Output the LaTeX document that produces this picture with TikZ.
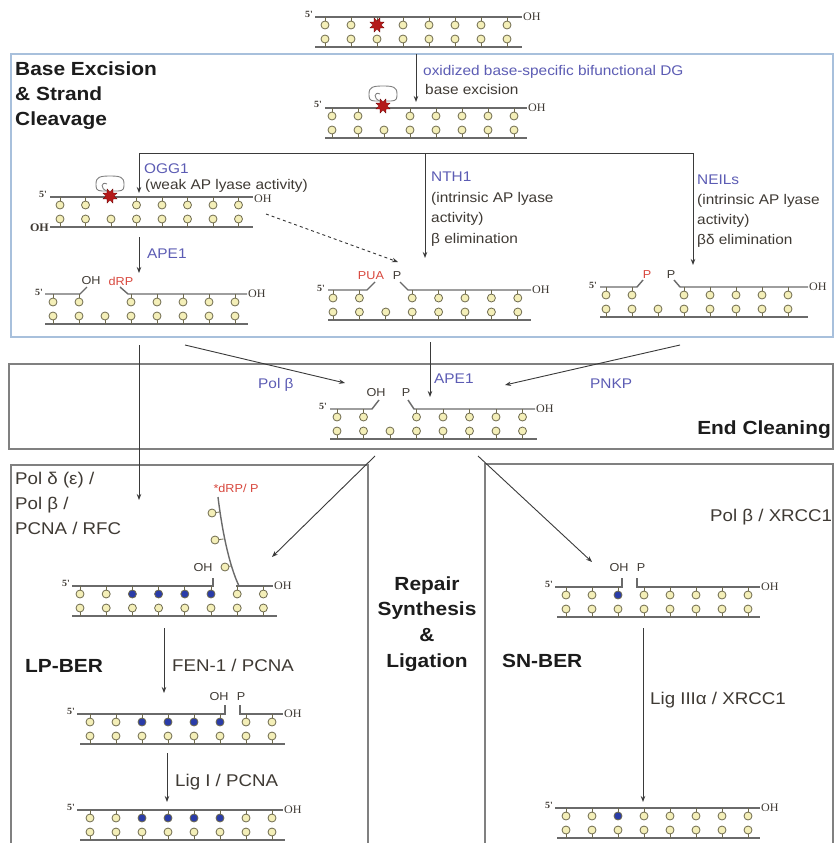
\documentclass[tikz,border=0pt]{standalone}
\usepackage{fontspec}
\setmainfont[FakeStretch=1.1]{Liberation Sans}
\newfontfamily\timesfont[FakeStretch=1.05]{Liberation Serif}
\usetikzlibrary{arrows.meta,shapes.geometric}

\definecolor{enzblue}{HTML}{5C5CB4}
\definecolor{txtdark}{HTML}{3F3A34}
\definecolor{redtxt}{HTML}{D8473D}
\definecolor{boxblue}{HTML}{A8C0DC}
\definecolor{boxgray}{HTML}{808080}
\definecolor{strandgray}{HTML}{6A6A6A}
\definecolor{basefill}{HTML}{F4EFB8}
\definecolor{baseedge}{HTML}{6E6A4E}
\definecolor{baseblue}{HTML}{2A3CA8}
\definecolor{arrowgray}{HTML}{3A3A3A}
\definecolor{lesionred}{HTML}{B41A1A}
\definecolor{headblack}{HTML}{1C1C1C}

% top-row bases hanging from a strand at height #3; #4 = list index/fill
\newcommand\toprow[4]{%
  \foreach \bk/\bc in {#4}{%
    \draw[stemline] ({#1+\bk*#2},#3) -- ({#1+\bk*#2},{#3+4.5});
    \draw[basecirc,fill=\bc] ({#1+\bk*#2},{#3+8}) circle[radius=4pt];}}
% bottom-row bases standing on the lower strand (#3+30)
\newcommand\botrow[3]{%
  \foreach \bk in {0,...,7}{%
    \draw[stemline] ({#1+\bk*#2},{#3+30}) -- ({#1+\bk*#2},{#3+25.5});
    \draw[basecirc,fill=basefill] ({#1+\bk*#2},{#3+22}) circle[radius=4pt];}}
% glycosylase outline sitting on a lesion at (#1,#2)
\newcommand\glyco[2]{%
  \draw[enzline] ({#1-2},{#2-5}) -- ({#1-8},{#2-5}) .. controls ({#1-14},{#2-5}) and ({#1-14},{#2-8}) .. ({#1-14},{#2-12})
     .. controls ({#1-14},{#2-19}) and ({#1-10},{#2-20}) .. ({#1},{#2-20})
     .. controls ({#1+10},{#2-20}) and ({#1+14},{#2-19}) .. ({#1+14},{#2-12})
     .. controls ({#1+14},{#2-8}) and ({#1+14},{#2-5}) .. ({#1+8},{#2-5}) -- ({#1+2},{#2-5});
  \draw[enzline] ({#1-3},{#2-5}) .. controls ({#1-10},{#2-7}) and ({#1-9},{#2-15}) .. ({#1-3},{#2-12});}

\begin{document}
\begin{tikzpicture}[x=1pt,y=-1pt,
  strand/.style={draw=strandgray,line width=1.4pt},
  stemline/.style={draw=baseedge,line width=0.8pt},
  basecirc/.style={draw=baseedge,line width=0.8pt},
  enzline/.style={draw=gray,line width=0.9pt,fill=white},
  lesion/.style={star,star points=8,star point ratio=0.55,fill=lesionred,draw=black!60!red,line width=0.3pt,minimum size=8.5pt,inner sep=0pt},
  arr/.style={draw=arrowgray,line width=0.9pt,-{Stealth[length=6pt,width=4.5pt]}},
  link/.style={draw=arrowgray,line width=0.9pt},
  enz/.style={text=enzblue,font=\fontsize{14}{16}\selectfont,inner sep=0pt},
  desc/.style={text=txtdark,font=\fontsize{14}{16}\selectfont,inner sep=0pt},
  bigdesc/.style={text=txtdark,font=\fontsize{17}{19}\selectfont,inner sep=0pt},
  redlab/.style={text=redtxt,font=\fontsize{11.5}{13}\selectfont,inner sep=0pt},
  darklab/.style={text=txtdark,font=\fontsize{11.5}{13}\selectfont,inner sep=0pt},
  fivep/.style={text=txtdark,font=\timesfont\bfseries\fontsize{9.5}{10}\selectfont,inner sep=0pt},
  ohend/.style={text=txtdark,font=\timesfont\fontsize{11.5}{12}\selectfont,inner sep=0pt},
  heading/.style={text=headblack,font=\bfseries\fontsize{19}{22}\selectfont,inner sep=0pt},
  panelblue/.style={draw=boxblue,line width=1.6pt},
  panelgray/.style={draw=boxgray,line width=1.3pt}]

\useasboundingbox (0,0) rectangle (835,843);
\fill[white] (0,0) rectangle (835,843);

% ---------- panels ----------
\draw[panelblue] (11,54) rectangle (833,337);
\draw[panelgray] (9,364) rectangle (833,449);
\draw[panelgray] (11,850) -- (11,465) -- (368,465) -- (368,850);
\draw[panelgray] (485,850) -- (485,464) -- (833,464) -- (833,850);

% ---------- panel headings ----------
\node[heading,anchor=base west] (hbe1) at (15,75) {Base Excision};
\node[heading,anchor=base west] (hbe2) at (15,100) {\& Strand};
\node[heading,anchor=base west] (hbe3) at (15,125) {Cleavage};
\node[heading,anchor=base east] (hec) at (831,434) {End Cleaning};
\node[heading,anchor=base] (hrs1) at (427,590) {Repair};
\node[heading,anchor=base] (hrs2) at (427,615) {Synthesis};
\node[heading,anchor=base] (hrs3) at (427,641) {\&};
\node[heading,anchor=base] (hrs4) at (427,667) {Ligation};
\node[heading,anchor=base west] (hlp) at (25,672) {LP-BER};
\node[heading,anchor=base west] (hsn) at (502,667) {SN-BER};

% ---------- damaged duplex ----------
\draw[strand] (315,17) -- (522,17);
\draw[strand] (315,47) -- (522,47);
\toprow{325}{26}{17}{0/basefill,1/basefill,3/basefill,4/basefill,5/basefill,6/basefill,7/basefill}
\draw[stemline] (377,17) -- (377,21.5);
\node[lesion] (les0) at (377,25) {};
\botrow{325}{26}{17}
\node[fivep,anchor=east] (d0five) at (313,14) {5'};
\node[ohend,anchor=west] (d0oh) at (523,17) {OH};

% ---------- base excised, enzyme bound ----------
\draw[strand] (325,108) -- (527,108);
\draw[strand] (325,138) -- (527,138);
\toprow{332}{26}{108}{0/basefill,1/basefill,3/basefill,4/basefill,5/basefill,6/basefill,7/basefill}
\botrow{332}{26}{108}
\glyco{383}{106}
\node[lesion] (les1) at (383,106) {};
\node[fivep,anchor=east] (d1five) at (322,104) {5'};
\node[ohend,anchor=west] (d1oh) at (528,108) {OH};

\coordinate (topOut) at (416,54);
\coordinate (exIn) at (416,102);
\draw[arr] (topOut) -- (exIn);
\node[enz,anchor=base west] (dglab) at (423,76) {oxidized base-specific bifunctional DG};
\node[desc,anchor=base west] (exlab) at (425,94) {base excision};

% ---------- three glycosylase branches ----------
\coordinate (brL) at (139,153);
\coordinate (brM) at (425,153);
\coordinate (brR) at (693,153);
\coordinate (oggIn) at (139,193);
\coordinate (nthIn) at (425,258);
\coordinate (neilIn) at (693,265);
\draw[link] (brL) -- (brR);
\draw[arr] (brL) -- (oggIn);
\draw[arr] (brM) -- (nthIn);
\draw[arr] (brR) -- (neilIn);

\node[enz,anchor=base west] (ogglab) at (144,173) {OGG1};
\node[desc,anchor=base west] (ogglab2) at (145,189) {(weak AP lyase activity)};
\node[enz,anchor=base west] (nthlab) at (431,181) {NTH1};
\node[desc,anchor=base west] (nthlab2) at (431,202) {(intrinsic AP lyase};
\node[desc,anchor=base west] (nthlab3) at (431,222) {activity)};
\node[desc,anchor=base west] (nthlab4) at (431,243) {β elimination};
\node[enz,anchor=base west] (neillab) at (697,184) {NEILs};
\node[desc,anchor=base west] (neillab2) at (697,204) {(intrinsic AP lyase};
\node[desc,anchor=base west] (neillab3) at (697,224) {activity)};
\node[desc,anchor=base west] (neillab4) at (697,244) {βδ elimination};

% OGG1 substrate
\draw[strand] (50,197) -- (253,197);
\draw[strand] (50,227) -- (253,227);
\toprow{60}{25.5}{197}{0/basefill,1/basefill,3/basefill,4/basefill,5/basefill,6/basefill,7/basefill}
\botrow{60}{25.5}{197}
\glyco{110}{196}
\node[lesion] (les2) at (110,196) {};
\node[fivep,anchor=east] (d2five) at (47,194) {5'};
\node[ohend,anchor=west] (d2oh) at (254,199) {OH};
\node[ohend,font=\timesfont\bfseries\fontsize{11.5}{12}\selectfont,anchor=east] (d2oh2) at (49,228) {OH};

\coordinate (oggOut) at (266,214);
\coordinate (puaIn) at (398,262);
\draw[arr,dashed] (oggOut) -- (puaIn);

\coordinate (apeOut) at (139,237);
\coordinate (apeIn) at (139,273);
\draw[arr] (apeOut) -- (apeIn);
\node[enz,anchor=base west] (apelab) at (147,258) {APE1};

% APE1 product: OH / dRP
\draw[strand] (45,294) -- (80,294) -- (87,287);
\draw[strand] (120,287) -- (128,294) -- (247,294);
\draw[strand] (45,324) -- (248,324);
\toprow{53}{26}{294}{0/basefill,1/basefill,3/basefill,4/basefill,5/basefill,6/basefill,7/basefill}
\botrow{53}{26}{294}
\node[fivep,anchor=east] (d3five) at (43,292) {5'};
\node[ohend,anchor=west] (d3oh) at (248,294) {OH};
\node[darklab] (d3ohn) at (91,281) {OH};
\node[redlab] (d3drp) at (121,281) {dRP};

% NTH1 product: PUA / P
\draw[strand] (328,290) -- (367,290) -- (375,282);
\draw[strand] (400,282) -- (408,290) -- (531,290);
\draw[strand] (328,320) -- (531,320);
\toprow{333}{26.4}{290}{0/basefill,1/basefill,3/basefill,4/basefill,5/basefill,6/basefill,7/basefill}
\botrow{333}{26.4}{290}
\node[fivep,anchor=east] (d4five) at (325,288) {5'};
\node[ohend,anchor=west] (d4oh) at (532,290) {OH};
\node[redlab] (d4pua) at (371,276) {PUA};
\node[darklab] (d4p) at (397,276) {P};

% NEIL product: P / P
\draw[strand] (600,287) -- (637,287) -- (643,280);
\draw[strand] (674,280) -- (680,287) -- (808,287);
\draw[strand] (600,317) -- (808,317);
\toprow{606}{26}{287}{0/basefill,1/basefill,3/basefill,4/basefill,5/basefill,6/basefill,7/basefill}
\botrow{606}{26}{287}
\node[fivep,anchor=east] (d5five) at (597,285) {5'};
\node[ohend,anchor=west] (d5oh) at (809,287) {OH};
\node[redlab] (d5p1) at (647,275) {P};
\node[darklab] (d5p2) at (671,275) {P};

% ---------- end cleaning ----------
\coordinate (polbOut) at (185,345);
\coordinate (polbIn) at (345,383);
\coordinate (apeOut2) at (430,342);
\coordinate (apeIn2) at (430,397);
\coordinate (pnkpOut) at (680,345);
\coordinate (pnkpIn) at (505,385);
\draw[arr] (polbOut) -- (polbIn);
\draw[arr] (apeOut2) -- (apeIn2);
\draw[arr] (pnkpOut) -- (pnkpIn);
\node[enz,anchor=base west] (polblab) at (258,388) {Pol β};
\node[enz,anchor=base west] (ape2lab) at (434,383) {APE1};
\node[enz,anchor=base west] (pnkplab) at (590,388) {PNKP};

\draw[strand] (330,409) -- (372,409) -- (379,400);
\draw[strand] (408,400) -- (414,409) -- (535,409);
\draw[strand] (330,439) -- (537,439);
\toprow{337}{26.5}{409}{0/basefill,1/basefill,3/basefill,4/basefill,5/basefill,6/basefill,7/basefill}
\botrow{337}{26.5}{409}
\node[fivep,anchor=east] (d6five) at (327,406) {5'};
\node[ohend,anchor=west] (d6oh) at (536,409) {OH};
\node[darklab] (d6ohn) at (376,393) {OH};
\node[darklab] (d6p) at (406,393) {P};

% ---------- long patch ----------
\coordinate (lpOut) at (139,345);
\coordinate (lpIn) at (139,500);
\draw[arr] (lpOut) -- (lpIn);
\node[bigdesc,anchor=base west] (lplab1) at (15,484) {Pol δ (ε) /};
\node[bigdesc,anchor=base west] (lplab2) at (15,509) {Pol β /};
\node[bigdesc,anchor=base west] (lplab3) at (15,534) {PCNA / RFC};

\coordinate (lpDiagOut) at (375,456);
\coordinate (lpDiagIn) at (272,557);
\draw[arr] (lpDiagOut) -- (lpDiagIn);

% strand displacement with flap
\draw[strand] (72,586) -- (213,586) -- (213,578);
\draw[strand] (236,586) -- (273,586);
\draw[strand] (72,616) -- (277,616);
\draw[strand] (218,497) .. controls (222,530) and (229,565) .. (239,586);
\draw[stemline] (212,513) -- (219.5,512);
\draw[basecirc,fill=basefill] (212,513) circle[radius=4pt];
\draw[stemline] (215,540) -- (223.5,539);
\draw[basecirc,fill=basefill] (215,540) circle[radius=4pt];
\draw[stemline] (225,567) -- (231,566);
\draw[basecirc,fill=basefill] (225,567) circle[radius=4pt];
\toprow{80}{26.2}{586}{0/basefill,1/basefill,2/baseblue,3/baseblue,4/baseblue,5/baseblue,6/basefill,7/basefill}
\botrow{80}{26.2}{586}
\node[fivep,anchor=east] (d7five) at (70,583) {5'};
\node[ohend,anchor=west] (d7oh) at (274,586) {OH};
\node[darklab] (d7ohn) at (203,568) {OH};
\node[redlab] (d7flap) at (236,488) {*dRP/ P};

\coordinate (fenOut) at (164,628);
\coordinate (fenIn) at (164,693);
\draw[arr] (fenOut) -- (fenIn);
\node[bigdesc,anchor=base west] (fenlab) at (172,671) {FEN-1 / PCNA};

\draw[strand] (77,714) -- (225,714) -- (225,705);
\draw[strand] (240,705) -- (240,714) -- (283,714);
\draw[strand] (80,744) -- (285,744);
\toprow{90}{26}{714}{0/basefill,1/basefill,2/baseblue,3/baseblue,4/baseblue,5/baseblue,6/basefill,7/basefill}
\botrow{90}{26}{714}
\node[fivep,anchor=east] (d8five) at (75,711) {5'};
\node[ohend,anchor=west] (d8oh) at (284,714) {OH};
\node[darklab] (d8ohn) at (219,697) {OH};
\node[darklab] (d8p) at (241,697) {P};

\coordinate (ligOut) at (167,753);
\coordinate (ligIn) at (167,802);
\draw[arr] (ligOut) -- (ligIn);
\node[bigdesc,anchor=base west] (liglab) at (175,786) {Lig I / PCNA};

\draw[strand] (77,810) -- (283,810);
\draw[strand] (80,840) -- (285,840);
\toprow{90}{26}{810}{0/basefill,1/basefill,2/baseblue,3/baseblue,4/baseblue,5/baseblue,6/basefill,7/basefill}
\botrow{90}{26}{810}
\node[fivep,anchor=east] (d9five) at (75,807) {5'};
\node[ohend,anchor=west] (d9oh) at (284,810) {OH};

% ---------- short patch ----------
\coordinate (snDiagOut) at (478,456);
\coordinate (snDiagIn) at (592,562);
\draw[arr] (snDiagOut) -- (snDiagIn);
\node[bigdesc,anchor=base west] (snlab) at (710,521) {Pol β / XRCC1};

\draw[strand] (555,587) -- (622,587) -- (622,578);
\draw[strand] (637,578) -- (637,587) -- (760,587);
\draw[strand] (557,617) -- (760,617);
\toprow{566}{26}{587}{0/basefill,1/basefill,2/baseblue,3/basefill,4/basefill,5/basefill,6/basefill,7/basefill}
\botrow{566}{26}{587}
\node[fivep,anchor=east] (d10five) at (553,584) {5'};
\node[ohend,anchor=west] (d10oh) at (761,587) {OH};
\node[darklab] (d10ohn) at (619,568) {OH};
\node[darklab] (d10p) at (641,568) {P};

\coordinate (lig3Out) at (643,628);
\coordinate (lig3In) at (643,802);
\draw[arr] (lig3Out) -- (lig3In);
\node[bigdesc,anchor=base west] (lig3lab) at (650,704) {Lig IIIα / XRCC1};

\draw[strand] (555,808) -- (760,808);
\draw[strand] (557,838) -- (760,838);
\toprow{566}{26}{808}{0/basefill,1/basefill,2/baseblue,3/basefill,4/basefill,5/basefill,6/basefill,7/basefill}
\botrow{566}{26}{808}
\node[fivep,anchor=east] (d11five) at (553,805) {5'};
\node[ohend,anchor=west] (d11oh) at (761,808) {OH};

\end{tikzpicture}
\end{document}
